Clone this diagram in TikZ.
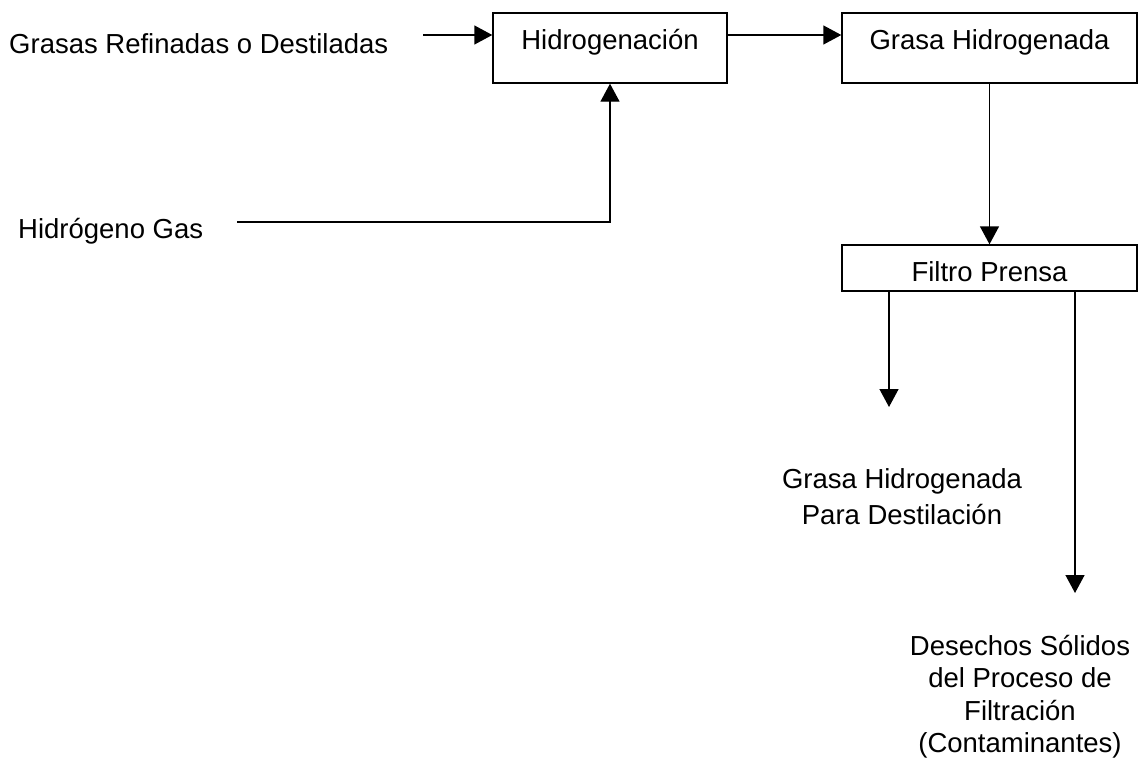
\documentclass[tikz,border=0pt]{standalone}
\usepackage{fontspec}
\setmainfont{Liberation Sans}
\usetikzlibrary{positioning,arrows.meta}
\definecolor{ink}{HTML}{000000}
\tikzset{
  flow/.style={-{Triangle[length=18pt,width=19pt]}, line width=1.4pt, color=ink},
  blk/.style={draw=ink, line width=1.4pt, inner sep=0pt, text=ink,
    font=\fontsize{27.5}{33}\selectfont},
  proc/.style={blk, minimum width=234pt, minimum height=70pt, text height=19pt, text depth=15pt},
  lbl/.style={inner sep=0pt, text=ink, align=center, font=\fontsize{27.5}{33}\selectfont},
}
\begin{document}
\begin{tikzpicture}[x=1pt,y=-1pt]
  \useasboundingbox (0,0) rectangle (1140,760);
  % process boxes
  \node[proc] (hid) at (610,48) {Hidrogenación};
  \node[proc, minimum width=295pt] (gh) at (989.5,48) {Grasa Hidrogenada};
  \node[blk, minimum width=295pt, minimum height=46pt, text height=26pt, text depth=0pt] (fp) at (989.5,268) {Filtro Prensa};
  % inputs and outputs
  \node[lbl, anchor=base west] (src) at (9,53) {Grasas Refinadas o Destiladas};
  \node[lbl, anchor=base west] (gas) at (18,238) {Hidrógeno Gas};
  \node[lbl, anchor=north, font=\fontsize{27.5}{36}\selectfont] (out1) at (902,468) {Grasa Hidrogenada\\Para Destilación};
  \node[lbl, anchor=north, font=\fontsize{27.5}{32.5}\selectfont] (out2) at (1020,635) {Desechos Sólidos\\del Proceso de\\Filtración\\(Contaminantes)};
  % connectors
  \coordinate (a1) at (423,35);
  \coordinate (a2) at (237,222);
  \coordinate (o1) at (889,407);
  \coordinate (o2) at (1075,593);
  \draw[flow] (a1) -- (a1 -| hid.west);
  \draw[flow] (a1 -| hid.east) -- (a1 -| gh.west);
  \draw[flow] (a2) -| (hid.south);
  \draw[flow] (gh.south) -- (fp.north);
  \draw[flow] (o1 |- fp.south) -- (o1);
  \draw[flow] (o2 |- fp.south) -- (o2);
\end{tikzpicture}
\end{document}
